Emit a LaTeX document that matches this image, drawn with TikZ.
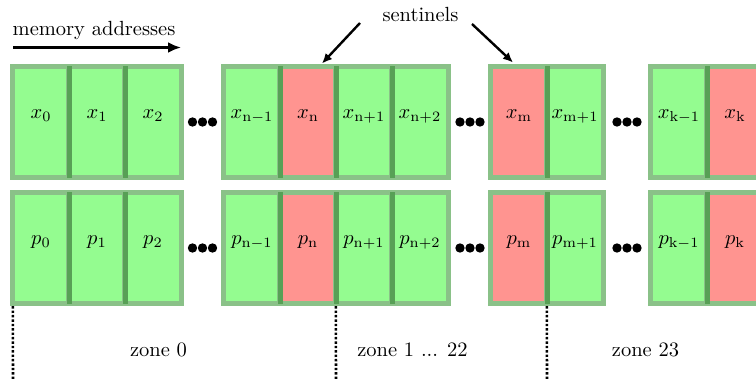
\RequirePackage{fix-cm}
\documentclass[tikz,border=0pt]{standalone}
\usepackage{fontspec}
\usepackage{graphicx}
\usetikzlibrary{arrows.meta}
\definecolor{cellg}{RGB}{148,252,144}
\definecolor{cellr}{RGB}{255,148,144}
\definecolor{borderlight}{RGB}{138,193,136}
\definecolor{borderdark}{RGB}{88,160,86}
\newcommand\sbx[1]{\scalebox{2.05}{#1}}
\tikzset{
  lbl/.style={inner sep=0pt},
  cell/.style={inner sep=0pt, minimum width=56pt, text height=52pt, text depth=59pt},
  border/.style={draw=borderlight, line width=5pt},
  divider/.style={draw=borderdark, line width=5pt},
  zoneline/.style={line width=2.6pt, dash pattern=on 2.4pt off 2pt},
  bigarrow/.style={line width=3pt, -{Latex[length=13pt,width=11pt]}},
  sarrow/.style={line width=2.4pt, -{Latex[length=10pt,width=9pt]}}
}
\begin{document}
\begin{tikzpicture}[x=1pt,y=-1pt]
\useasboundingbox (0,0) rectangle (756,379);
\clip (0,0) rectangle (756,379);
% cells (fills)
\foreach \cx/\sub/\col [count=\i] in {41/0/g, 97/1/g, 153/2/g, 252/{\mathrm{n}-1}/g, 308/\mathrm{n}/r, 364/{\mathrm{n}+1}/g, 420/{\mathrm{n}+2}/g, 519/\mathrm{m}/r, 575/{\mathrm{m}+1}/g, 679/{\mathrm{k}-1}/g, 735/\mathrm{k}/r}{
  \node[cell, fill=cell\col] (x\i) at (\cx,122) {\sbx{$x_{\sub}$}};
  \node[cell, fill=cell\col] (p\i) at (\cx,248) {\sbx{$p_{\sub}$}};
}
% borders
\foreach \i in {1,...,11}{
  \draw[border] (x\i.north west) rectangle (x\i.south east);
  \draw[border] (p\i.north west) rectangle (p\i.south east);
}
% dividers between adjacent cells
\foreach \i in {1,2,4,5,6,8,10}{
  \draw[divider] (x\i.north east) -- (x\i.south east);
  \draw[divider] (p\i.north east) -- (p\i.south east);
}
% ellipsis dots
\foreach \dx in {202.5,470,627}{
  \foreach \k in {-10,0,10}{
    \fill (\dx+\k,122) circle (4.7pt);
    \fill (\dx+\k,248) circle (4.7pt);
  }
}
% memory addresses
\node[lbl, anchor=base west] (mem) at (12.5,36) {\sbx{memory addresses}};
\coordinate (ma) at (13,47.5);
\coordinate (mb) at (181,47.5);
\draw[bigarrow] (ma) -- (mb);
% sentinels
\node[lbl, anchor=base] (sent) at (420.5,21.5) {\sbx{sentinels}};
\coordinate (s1) at (360,23);
\coordinate (t1) at (322,63.5);
\coordinate (s2) at (472,24);
\coordinate (t2) at (513,62.5);
\draw[sarrow] (s1) -- (t1);
\draw[sarrow] (s2) -- (t2);
% zone lines
\coordinate (z1) at (13,380);
\coordinate (z2) at (336,380);
\coordinate (z3) at (547,380);
\draw[zoneline] ([yshift=-2.5pt]p1.south west) -- (z1);
\draw[zoneline] ([yshift=-2.5pt]p6.south west) -- (z2);
\draw[zoneline] ([yshift=-2.5pt]p9.south west) -- (z3);
% zone labels
\node[lbl, anchor=base] (zn0) at (158.5,357) {\sbx{zone 0}};
\node[lbl, anchor=base] (zn1) at (412.5,357) {\sbx{zone 1 ... 22}};
\node[lbl, anchor=base] (zn23) at (645.5,357) {\sbx{zone 23}};
\end{tikzpicture}
\end{document}
